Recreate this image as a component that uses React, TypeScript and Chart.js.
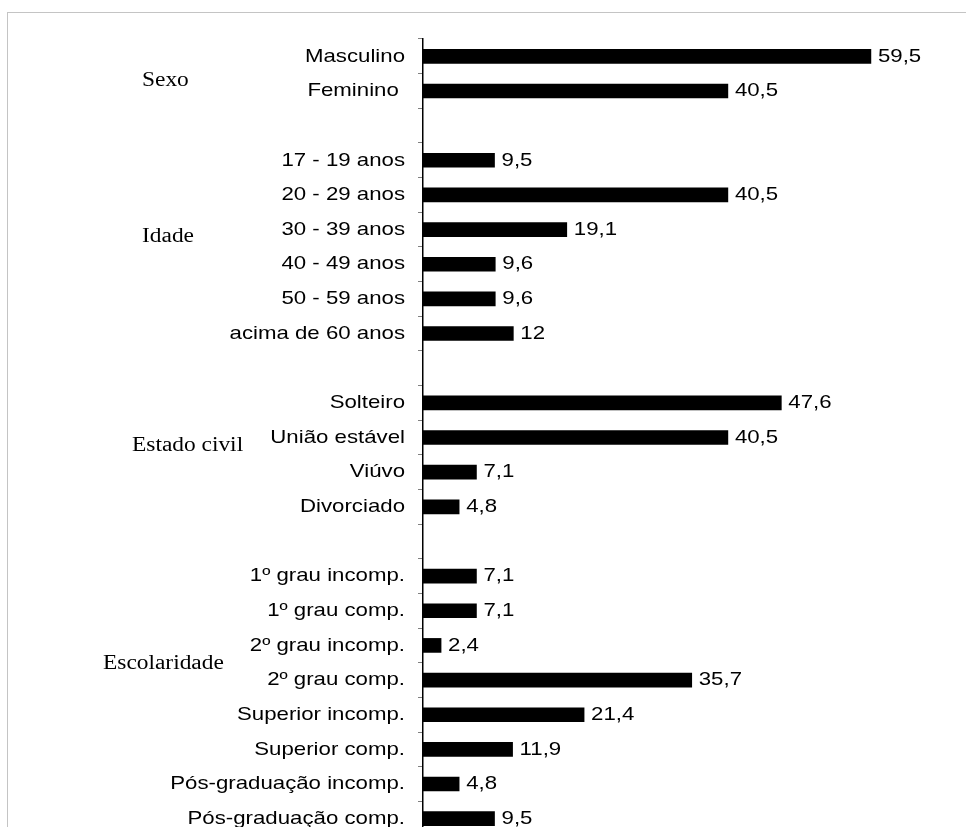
import React, { useEffect, useRef } from "react";
import { Chart, registerables } from "chart.js";

Chart.register(...registerables);

// Row labels (empty strings are spacer rows between the groups)
const categories: string[] = [
  "Masculino",
  "Feminino ",
  "",
  "17 - 19 anos",
  "20 - 29 anos",
  "30 - 39 anos",
  "40 - 49 anos",
  "50 - 59 anos",
  "acima de 60 anos",
  "",
  "Solteiro",
  "União estável",
  "Viúvo",
  "Divorciado",
  "",
  "1º grau incomp.",
  "1º grau comp.",
  "2º grau incomp.",
  "2º grau comp.",
  "Superior incomp.",
  "Superior comp.",
  "Pós-graduação incomp.",
  "Pós-graduação comp.",
];

// Percentages per row
const values: (number | null)[] = [
  59.5, 40.5, null,
  9.5, 40.5, 19.1, 9.6, 9.6, 12, null,
  47.6, 40.5, 7.1, 4.8, null,
  7.1, 7.1, 2.4, 35.7, 21.4, 11.9, 4.8, 9.5,
];

// Group headings shown to the left of the row labels
const groupNames: string[] = ["Sexo", "Idade", "Estado civil", "Escolaridade"];

// Where each heading sits: left edge in px, vertical anchor as a row position
const groupAnchors = [
  { left: 142, row: 0.7 },
  { left: 142, row: 5.22 },
  { left: 132, row: 11.25 },
  { left: 103, row: 17.53 },
];

const STRETCH = 1.17;
const SANS = '19px "Liberation Sans", Arial, sans-serif';
const SERIF = '20px "Liberation Serif", "Times New Roman", serif';

function drawText(
  ctx: CanvasRenderingContext2D,
  text: string,
  x: number,
  y: number,
  align: CanvasTextAlign,
  font: string
) {
  ctx.save();
  ctx.translate(x, y);
  ctx.scale(STRETCH, 1);
  ctx.font = font;
  ctx.textAlign = align;
  ctx.textBaseline = "middle";
  ctx.fillStyle = "#000";
  ctx.fillText(text, 0, 0);
  ctx.restore();
}

const labelPlugin = {
  id: "rowLabels",
  afterDatasetsDraw(chart: any) {
    const ctx: CanvasRenderingContext2D = chart.ctx;
    const xs = chart.scales.x;
    const ys = chart.scales.y;
    const left = chart.chartArea.left;
    categories.forEach((label, i) => {
      const y = ys.getPixelForValue(i);
      if (label) drawText(ctx, label, left - 18, y, "right", SANS);
      const v = values[i];
      if (v !== null && v !== undefined) {
        const x = xs.getPixelForValue(v);
        drawText(ctx, String(v).replace(".", ","), x + 7, y, "left", SANS);
      }
    });
    groupNames.forEach((name, g) => {
      const a = groupAnchors[g];
      drawText(ctx, name, a.left, ys.getPixelForValue(a.row), "left", SERIF);
    });
  },
};

export default function App() {
  const canvasRef = useRef<HTMLCanvasElement | null>(null);

  useEffect(() => {
    if (!canvasRef.current) return;
    const chart = new Chart(canvasRef.current, {
      type: "bar",
      data: {
        labels: categories,
        datasets: [
          {
            data: values as any,
            backgroundColor: "#000",
            borderWidth: 0,
            barThickness: 14,
          },
        ],
      },
      options: {
        indexAxis: "y",
        responsive: false,
        animation: false,
        layout: { padding: { left: 0, right: 1, top: 39, bottom: 4 } },
        plugins: {
          legend: { display: false },
          tooltip: { enabled: false },
        },
        scales: {
          x: {
            type: "linear",
            display: false,
            min: 0,
            max: 72,
          },
          y: {
            type: "category",
            ticks: { display: false },
            grid: {
              offset: true,
              drawOnChartArea: false,
              drawTicks: true,
              tickLength: 5,
              tickColor: "#808080",
              tickWidth: 1,
            },
            border: { display: true, color: "#000", width: 1.5 },
            afterFit: (scale: any) => {
              scale.width = 423;
            },
          },
        },
      },
      plugins: [labelPlugin],
    });
    return () => chart.destroy();
  }, []);

  return (
    <div
      style={{
        position: "fixed",
        left: 0,
        top: 0,
        width: 966,
        height: 827,
        overflow: "hidden",
        background: "#fff",
      }}
    >
      <div
        style={{
          position: "absolute",
          left: 7,
          top: 12,
          width: 2000,
          height: 2000,
          borderLeft: "1px solid #c4c4c4",
          borderTop: "1px solid #c4c4c4",
        }}
      />
      <canvas
        ref={canvasRef}
        width={966}
        height={840}
        style={{ position: "absolute", left: 0, top: 0, display: "block" }}
      />
    </div>
  );
}
